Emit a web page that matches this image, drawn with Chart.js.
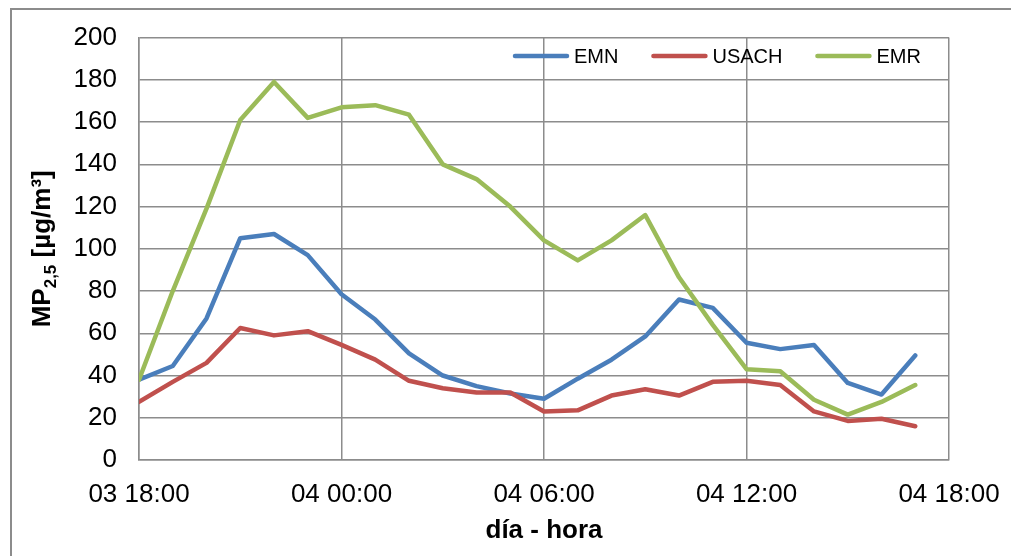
<!DOCTYPE html>
<html>

<head>
  <meta charset="utf-8">
  <title>MP2,5 por hora</title>
  <script src="https://cdn.jsdelivr.net/npm/chart.js@4.4.1/dist/chart.umd.min.js"></script>
  <style>
    html,
    body {
      margin: 0;
      padding: 0;
      background: #fff;
    }

    canvas {
      display: block;
    }
  </style>
</head>

<body>
  <canvas id="mpChart" width="1011" height="556"></canvas>
  <script>
    // hours since 03 18:00
    const hours = [0, 1, 2, 3, 4, 5, 6, 7, 8, 9, 10, 11, 12, 13, 14, 15, 16, 17, 18, 19, 20, 21, 22, 23];
    const tickLabels = ['03 18:00', '04 00:00', '04 06:00', '04 12:00', '04 18:00'];

    const emn = [38, 44.5, 67, 105, 107, 97, 78.5, 66.5, 50.5, 40, 35, 31.5, 29, 38.5, 47.5, 58.5, 76, 72, 55.5, 52.5, 54.5, 36.5, 31, 49.5];
    const usach = [27.5, 37, 46, 62.5, 59, 61, 54.5, 47.5, 37.5, 34, 32, 32, 23, 23.5, 30.5, 33.5, 30.5, 37, 37.5, 35.5, 23, 18.5, 19.5, 16];
    const emr = [38, 80, 119, 161, 179, 162, 167, 168, 163.5, 140, 133, 120, 104, 94.5, 104, 116, 86.5, 64, 43, 42, 28.5, 21.5, 27.5, 35.5];

    const FONT = '"Liberation Sans", Arial, sans-serif';
    const GRID = '#8c8c8c';

    function series(label, values, color, order) {
      return {
        label: label,
        data: hours.map((h, i) => ({ x: h, y: values[i] })),
        borderColor: color,
        backgroundColor: color,
        borderWidth: 4.5,
        borderCapStyle: 'round',
        borderJoinStyle: 'round',
        pointRadius: 0,
        tension: 0,
        fill: false,
        order: order
      };
    }

    // frame, axis titles and legend drawn straight onto the canvas
    const decorations = {
      id: 'decorations',
      beforeDraw(chart) {
        const ctx = chart.ctx;
        ctx.save();
        ctx.fillStyle = '#fff';
        ctx.fillRect(0, 0, chart.width, chart.height);
        ctx.strokeStyle = GRID;
        ctx.lineWidth = 2;
        ctx.beginPath();
        ctx.moveTo(11, chart.height + 5);
        ctx.lineTo(11, 9);
        ctx.lineTo(chart.width + 5, 9);
        ctx.stroke();
        ctx.restore();
      },
      afterDraw(chart) {
        const ctx = chart.ctx;
        const area = chart.chartArea;
        ctx.save();
        ctx.fillStyle = '#000';

        // x title
        ctx.font = 'bold 26px ' + FONT;
        ctx.textAlign = 'center';
        ctx.textBaseline = 'middle';
        ctx.fillText('día - hora', (area.left + area.right) / 2, 531);

        // y title with subscript
        const parts = [
          { t: 'MP', f: 'bold 26px ' + FONT, dy: 0 },
          { t: '2,5', f: 'bold 17px ' + FONT, dy: 6 },
          { t: ' [µg/m³]', f: 'bold 26px ' + FONT, dy: 0 }
        ];
        let total = 0;
        parts.forEach(p => { ctx.font = p.f; p.w = ctx.measureText(p.t).width; total += p.w; });
        ctx.translate(50, (area.top + area.bottom) / 2);
        ctx.rotate(-Math.PI / 2);
        ctx.textAlign = 'left';
        ctx.textBaseline = 'alphabetic';
        let x = -total / 2;
        parts.forEach(p => { ctx.font = p.f; ctx.fillText(p.t, x, p.dy); x += p.w; });
        ctx.setTransform(1, 0, 0, 1, 0, 0);

        // legend inside the plot, no background
        ctx.font = '20px ' + FONT;
        ctx.textBaseline = 'middle';
        let lx = 513;
        const ly = 56;
        chart.data.datasets.forEach(ds => {
          ctx.strokeStyle = ds.borderColor;
          ctx.lineWidth = 4.5;
          ctx.lineCap = 'round';
          ctx.beginPath();
          ctx.moveTo(lx + 2, ly);
          ctx.lineTo(lx + 54, ly);
          ctx.stroke();
          ctx.fillText(ds.label, lx + 61, ly + 1);
          lx += 61 + ctx.measureText(ds.label).width + 33;
        });
        ctx.restore();
      }
    };

    const ctx = document.getElementById('mpChart').getContext('2d');
    window.mpChart = new Chart(ctx, {
      type: 'line',
      data: {
        datasets: [
          series('EMN', emn, '#4a7ebb', 3),
          series('USACH', usach, '#c0504d', 2),
          series('EMR', emr, '#9bbb59', 1)
        ]
      },
      options: {
        responsive: false,
        animation: false,
        layout: { padding: { left: 0, top: 36, right: 62, bottom: 0 } },
        scales: {
          x: {
            type: 'linear',
            min: 0,
            max: 24,
            afterFit(scale) {
              scale.height = 96;
              scale.paddingLeft = 0;
              scale.paddingRight = 0;
            },
            ticks: {
              stepSize: 6,
              autoSkip: false,
              maxRotation: 0,
              padding: 19,
              color: '#000',
              font: { family: FONT, size: 26 },
              callback: v => tickLabels[v / 6]
            },
            grid: { color: GRID, lineWidth: 1.5, drawTicks: false },
            border: { color: GRID, width: 1.5 }
          },
          y: {
            min: 0,
            max: 200,
            afterFit(scale) { scale.width = 139; },
            ticks: {
              stepSize: 20,
              padding: 22,
              color: '#000',
              font: { family: FONT, size: 26 }
            },
            grid: { color: GRID, lineWidth: 1.5, drawTicks: false },
            border: { color: GRID, width: 1.5 }
          }
        },
        plugins: {
          legend: { display: false },
          tooltip: { enabled: false }
        }
      },
      plugins: [decorations]
    });
  </script>
</body>

</html>
